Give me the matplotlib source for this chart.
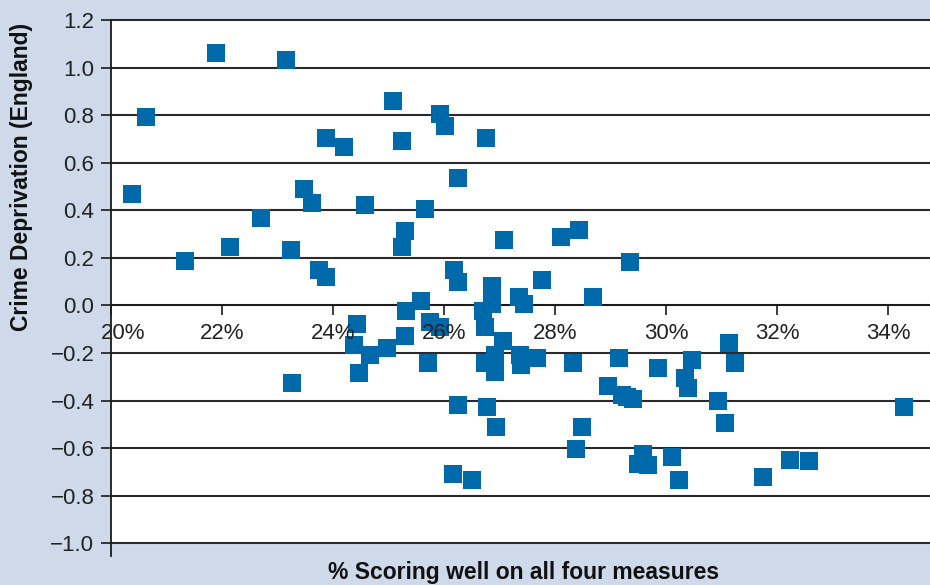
import matplotlib
matplotlib.use("Agg")
import matplotlib.pyplot as plt
from matplotlib.ticker import FixedLocator, FuncFormatter

# Data: % scoring well on all four measures vs Crime Deprivation (England)
pct_scoring = [
    20.37, 20.63, 21.90, 23.15, 21.34, 22.15, 22.71, 23.25, 23.47, 23.63,
    23.87, 24.19, 23.75, 23.88, 24.58, 25.08, 25.25, 25.30, 25.25, 25.65,
    25.92, 26.02, 26.25, 26.18, 26.26, 25.59, 26.76, 27.09, 28.11, 28.44,
    29.36, 27.77, 26.87, 26.87, 27.35, 27.44, 28.69, 26.70, 26.73, 27.07,
    26.73, 26.92, 26.91, 27.37, 27.38, 27.67, 28.33, 26.26, 26.78, 26.94,
    28.49, 28.37, 29.16, 29.85, 30.47, 30.34, 30.40, 31.14, 31.25, 28.96,
    29.21, 29.41, 30.94, 31.07, 29.59, 29.50, 29.68, 30.11, 30.24, 31.75,
    32.24, 32.58, 34.29, 23.27, 24.43, 24.38, 24.46, 24.66, 24.98, 25.29,
    25.32, 25.75, 25.93, 25.72, 26.17, 26.50, 29.30,
]
crime_deprivation = [
    0.467, 0.791, 1.060, 1.031, 0.185, 0.244, 0.366, 0.233, 0.488, 0.429,
    0.703, 0.665, 0.151, 0.118, 0.421, 0.858, 0.690, 0.311, 0.247, 0.406,
    0.803, 0.754, 0.535, 0.150, 0.099, 0.017, 0.703, 0.275, 0.286, 0.317,
    0.181, 0.105, 0.080, 0.004, 0.036, 0.004, 0.036, -0.024, -0.090, -0.150,
    -0.240, -0.209, -0.279, -0.209, -0.251, -0.223, -0.244, -0.417, -0.429, -0.509,
    -0.513, -0.602, -0.223, -0.265, -0.230, -0.303, -0.349, -0.160, -0.240, -0.340,
    -0.377, -0.395, -0.400, -0.496, -0.623, -0.665, -0.669, -0.639, -0.735, -0.721,
    -0.648, -0.654, -0.429, -0.328, -0.076, -0.167, -0.286, -0.209, -0.177, -0.128,
    -0.023, -0.069, -0.090, -0.240, -0.707, -0.732, -0.386,
]
x_ticks = [20, 22, 24, 26, 28, 30, 32, 34]
x_tick_labels = ["20%", "22%", "24%", "26%", "28%", "30%", "32%", "34%"]
y_ticks = [-1.0, -0.8, -0.6, -0.4, -0.2, 0.0, 0.2, 0.4, 0.6, 0.8, 1.0, 1.2]

BG = "#CED9EA"
BLUE = "#0069AA"
W, H = 930, 585

plt.rcParams["font.family"] = ["Liberation Sans", "DejaVu Sans"]

fig = plt.figure(figsize=(W / 100, H / 100), dpi=100, facecolor=BG)
ax = fig.add_axes([111 / W, (H - 543.3) / H, (W - 111) / W, (543.3 - 20) / H])
ax.set_facecolor("white")
ax.set_xlim(20, 20 + (W - 111) / 55.5)
ax.set_ylim(-1.0, 1.2)

# horizontal gridlines
for v in y_ticks:
    ax.axhline(v, color="#2a2a2a", lw=1.5, zorder=0.5, clip_on=False)

ax.scatter(pct_scoring, crime_deprivation, marker="s", s=13.4 ** 2,
           color=BLUE, linewidths=0, zorder=3)

for s in ["top", "right"]:
    ax.spines[s].set_visible(False)
ax.spines["bottom"].set_position(("data", 0))
ax.spines["bottom"].set_color("#1a1a1a")
ax.spines["bottom"].set_linewidth(1.3)
ax.spines["left"].set_color("#1a1a1a")
ax.spines["left"].set_linewidth(1.3)
# left spine extends slightly below the plot area
ax.plot([0, 0], [0, -13 / 523.3], transform=ax.transAxes, color="#1a1a1a",
        lw=1.3, clip_on=False, zorder=4)

ax.yaxis.set_major_locator(FixedLocator(y_ticks))
ax.yaxis.set_major_formatter(FuncFormatter(lambda v, p: f"{v:.1f}".replace("-", "\u2212")))
ax.tick_params(axis="y", direction="out", length=7, width=1.2, color="#1a1a1a",
               labelsize=16, labelcolor="#222222", pad=5)

ax.xaxis.set_major_locator(FixedLocator(x_ticks))
ax.tick_params(axis="x", direction="out", length=7, width=1.2, color="#1a1a1a",
               labelbottom=False)
for xv, lab in zip(x_ticks, x_tick_labels):
    dx = 0.22 if xv == x_ticks[0] else 0.0
    ax.text(xv + dx, -0.118, lab, ha="center", va="center", fontsize=16,
            color="#222222", zorder=5)

fig.text(524 / W, 1 - 573 / H, "% Scoring well on all four measures",
         ha="center", va="center", fontsize=16.5, fontweight="bold", color="#111111")
fig.text(22 / W, 1 - 177 / H, "Crime Deprivation (England)", rotation=90,
         ha="center", va="center", fontsize=16.5, fontweight="bold", color="#111111")

fig.savefig("out.png", dpi=100, facecolor=BG)
